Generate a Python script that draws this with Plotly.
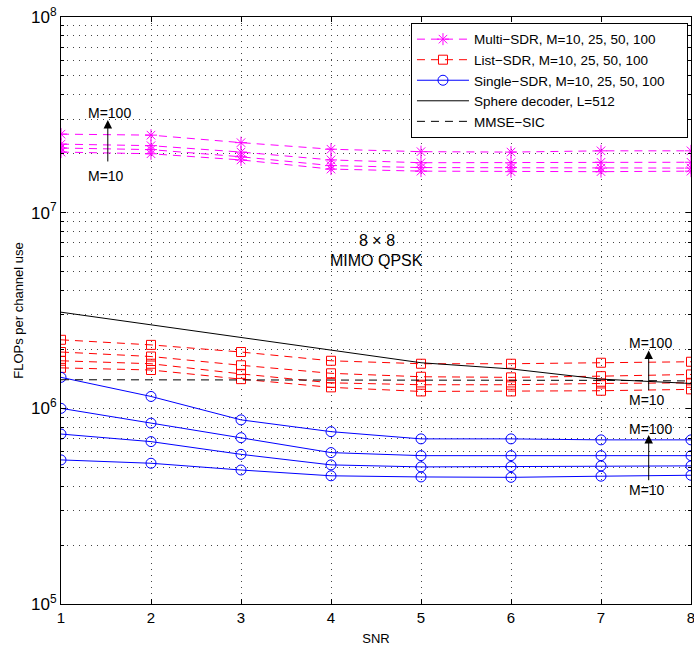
import plotly.graph_objects as go

snr = [1, 2, 3, 4, 5, 6, 7, 8]
list_sizes = [10, 25, 50, 100]

# FLOPs per channel use, one list per list size M
multi_sdr = {
    10:  [2.04e7, 2.00e7, 1.86e7, 1.67e7, 1.63e7, 1.62e7, 1.62e7, 1.63e7],
    25:  [2.14e7, 2.10e7, 1.93e7, 1.74e7, 1.70e7, 1.70e7, 1.69e7, 1.69e7],
    50:  [2.24e7, 2.20e7, 2.04e7, 1.86e7, 1.80e7, 1.80e7, 1.81e7, 1.81e7],
    100: [2.52e7, 2.49e7, 2.28e7, 2.11e7, 2.05e7, 2.04e7, 2.07e7, 2.07e7],
}
list_sdr = {
    10:  [1.61e6, 1.57e6, 1.41e6, 1.28e6, 1.22e6, 1.22e6, 1.23e6, 1.25e6],
    25:  [1.75e6, 1.69e6, 1.50e6, 1.35e6, 1.32e6, 1.32e6, 1.34e6, 1.35e6],
    50:  [1.94e6, 1.84e6, 1.66e6, 1.51e6, 1.45e6, 1.44e6, 1.46e6, 1.49e6],
    100: [2.24e6, 2.11e6, 1.94e6, 1.75e6, 1.69e6, 1.69e6, 1.71e6, 1.73e6],
}
single_sdr = {
    10:  [5.45e5, 5.24e5, 4.84e5, 4.52e5, 4.46e5, 4.44e5, 4.50e5, 4.55e5],
    25:  [7.39e5, 6.76e5, 5.82e5, 5.14e5, 5.02e5, 5.04e5, 5.08e5, 5.08e5],
    50:  [1.00e6, 8.40e5, 7.08e5, 5.94e5, 5.73e5, 5.73e5, 5.73e5, 5.73e5],
    100: [1.44e6, 1.15e6, 8.73e5, 7.60e5, 6.98e5, 6.98e5, 6.90e5, 6.90e5],
}
sphere_decoder = [3.10e6, 2.67e6, 2.30e6, 1.99e6, 1.71e6, 1.59e6, 1.41e6, 1.34e6]
mmse_sic = [1.40e6, 1.40e6, 1.39e6, 1.39e6, 1.39e6, 1.39e6, 1.39e6, 1.38e6]

y_tick_vals = [1e5, 1e6, 1e7, 1e8]
y_tick_text = ["10<sup>5</sup>", "10<sup>6</sup>", "10<sup>7</sup>", "10<sup>8</sup>"]

FONT = "Liberation Sans, Arial, Helvetica, sans-serif"
DASH = "8px,6px"
PAD = "\u00a0" * 7

fig = go.Figure()


def add_family(data, name, color, symbol, dash, msize):
    for i, m in enumerate(list_sizes):
        fig.add_trace(go.Scatter(
            x=snr, y=data[m], mode="lines+markers", name=name,
            legendgroup=name, showlegend=(i == 0),
            line=dict(color=color, width=1, dash=dash),
            marker=dict(symbol=symbol, size=msize, color=color,
                        line=dict(color=color, width=1)),
        ))


add_family(multi_sdr, "Multi\u2212SDR, M=10, 25, 50, 100" + PAD, "#ff00ff",
           "asterisk-open", DASH, 10)
add_family(list_sdr, "List\u2212SDR, M=10, 25, 50, 100", "#ff0000",
           "square-open", DASH, 9)
add_family(single_sdr, "Single\u2212SDR, M=10, 25, 50, 100", "#0000ff",
           "circle-open", "solid", 10)

fig.add_trace(go.Scatter(
    x=snr, y=sphere_decoder, mode="lines", name="Sphere decoder, L=512",
    line=dict(color="black", width=1),
))
fig.add_trace(go.Scatter(
    x=snr, y=mmse_sic, mode="lines", name="MMSE\u2212SIC",
    line=dict(color="black", width=1, dash=DASH),
))

# Arrows marking the direction of increasing list size
arrows = [
    # (x, log10 head, log10 tail, log10 top label, log10 bottom label)
    (1.52, 7.474, 7.254, 7.511, 7.188),
    (7.53, 6.295, 6.085, 6.333, 6.043),
    (7.53, 5.864, 5.625, 5.893, 5.583),
]
for xa, yh, yt, ylab_top, ylab_bot in arrows:
    fig.add_annotation(x=xa, y=yh, ax=xa, ay=yt, axref="x", ayref="y",
                       xref="x", yref="y", text="", showarrow=True,
                       arrowhead=2, arrowsize=1.7, arrowwidth=1,
                       arrowcolor="black")
    fig.add_annotation(x=xa + 0.02, y=ylab_top, text="M=100", showarrow=False,
                       font=dict(size=14, color="black", family=FONT))
    fig.add_annotation(x=xa - 0.02, y=ylab_bot, text="M=10", showarrow=False,
                       font=dict(size=14, color="black", family=FONT))

fig.add_annotation(x=4.51, y=6.857, text="8 \u00d7 8", showarrow=False,
                   font=dict(size=16, color="black", family=FONT))
fig.add_annotation(x=4.51, y=6.755, text="MIMO QPSK", showarrow=False,
                   font=dict(size=16, color="black", family=FONT))

minor_vals = [k * 10 ** e for e in (5, 6, 7) for k in range(2, 10)]
GRID = dict(showgrid=True, gridcolor="#444", gridwidth=1, griddash="1px,5px")

fig.update_xaxes(
    range=[1, 8], tickmode="array", tickvals=snr,
    ticks="inside", ticklen=5, tickcolor="black",
    showline=True, linecolor="black", linewidth=1, mirror="ticks",
    zeroline=False, ticklabeloverflow="allow",
    title=dict(text="SNR", standoff=8, font=dict(size=13, family=FONT)),
    tickfont=dict(size=15, family=FONT, color="black"),
    **GRID,
)
fig.update_yaxes(
    type="log", range=[5, 8], tickmode="array",
    tickvals=y_tick_vals, ticktext=y_tick_text,
    ticks="inside", ticklen=5, tickcolor="black",
    showline=True, linecolor="black", linewidth=1, mirror="ticks",
    zeroline=False, ticklabeloverflow="allow",
    title=dict(text="FLOPs per channel use", standoff=4,
               font=dict(size=13, family=FONT)),
    tickfont=dict(size=17, family=FONT, color="black"),
    minor=dict(tickmode="array", tickvals=minor_vals, ticks="inside",
               ticklen=3, tickcolor="black", **GRID),
    **GRID,
)

fig.update_layout(
    width=694, height=646,
    margin=dict(l=61, r=3, t=17, b=42, autoexpand=False),
    paper_bgcolor="white", plot_bgcolor="white",
    font=dict(family=FONT, color="black"),
    legend=dict(
        x=0.9952, y=0.99, xanchor="right", yanchor="top",
        bgcolor="white", bordercolor="black", borderwidth=1,
        font=dict(size=13.5, family=FONT, color="black"),
        tracegroupgap=0, itemwidth=52,
    ),
)

fig.write_html("out.html")
